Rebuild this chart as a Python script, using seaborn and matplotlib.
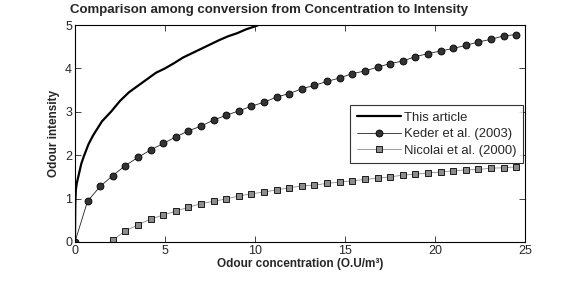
import numpy as np
import pandas as pd
import matplotlib
matplotlib.use("Agg")
import matplotlib.pyplot as plt
import seaborn as sns

# 数据
article_x = [0, 0.02, 0.05, 0.1, 0.2, 0.35, 0.5, 0.75, 1.0, 1.5, 2.0, 2.5, 3.0,
             3.5, 4.0, 4.5, 5.0, 5.5, 6.0, 6.5, 7.0, 7.5, 8.0, 8.5, 9.0, 9.5,
             10.0, 10.2]
article_y = [0, 0.9, 1.2, 1.35, 1.53, 1.8, 1.98, 2.25, 2.45, 2.78, 3.0, 3.25,
             3.45, 3.6, 3.75, 3.9, 4.0, 4.12, 4.25, 4.35, 4.45, 4.55, 4.65,
             4.74, 4.81, 4.9, 4.97, 5.0]

keder_x = [0, 0.7, 1.4, 2.1, 2.8, 3.5, 4.2, 4.9, 5.6, 6.3, 7.0, 7.7, 8.4, 9.1,
           9.8, 10.5, 11.2, 11.9, 12.6, 13.3, 14.0, 14.7, 15.4, 16.1, 16.8,
           17.5, 18.2, 18.9, 19.6, 20.3, 21.0, 21.7, 22.4, 23.1, 23.8, 24.5]
keder_y = [0, 0.94, 1.28, 1.53, 1.76, 1.95, 2.12, 2.27, 2.42, 2.56, 2.67, 2.81,
           2.92, 3.02, 3.13, 3.22, 3.34, 3.42, 3.53, 3.61, 3.70, 3.78, 3.88,
           3.94, 4.03, 4.11, 4.17, 4.27, 4.34, 4.40, 4.46, 4.53, 4.61, 4.67,
           4.75, 4.78]

nicolai_x = keder_x[3:]
nicolai_y = [0.04, 0.26, 0.39, 0.53, 0.62, 0.71, 0.80, 0.88, 0.94, 0.99, 1.06,
             1.11, 1.15, 1.20, 1.25, 1.29, 1.31, 1.35, 1.38, 1.41, 1.44, 1.47,
             1.50, 1.54, 1.56, 1.59, 1.61, 1.64, 1.66, 1.67, 1.70, 1.71, 1.73]

sns.set_style("ticks")
plt.rcParams['font.family'] = ['Liberation Sans', 'DejaVu Sans']

fig = plt.figure(figsize=(5.81, 2.81), dpi=100)
ax = fig.add_axes([0.129, 0.139, 0.775, 0.772])

sns.lineplot(x=article_x, y=article_y, ax=ax, color='black', linewidth=1.6,
             label='This article', sort=False)
sns.lineplot(x=keder_x, y=keder_y, ax=ax, color='#222222', linewidth=0.6,
             marker='o', markersize=5, markerfacecolor='#333333',
             markeredgecolor='black', markeredgewidth=0.6,
             label='Keder et al. (2003)', sort=False)
sns.lineplot(x=nicolai_x, y=nicolai_y, ax=ax, color='#8c8c8c', linewidth=0.6,
             marker='s', markersize=4.2, markerfacecolor='#8c8c8c',
             markeredgecolor='black', markeredgewidth=0.6,
             label='Nicolai et al. (2000)', sort=False)

ax.set_xlim(0, 25)
ax.set_ylim(0, 5)
ax.set_xticks([0, 5, 10, 15, 20, 25])
ax.set_yticks([0, 1, 2, 3, 4, 5])
ax.tick_params(direction='in', top=True, right=True, labelsize=9, length=4,
               width=0.6, pad=2)
for s in ax.spines.values():
    s.set_linewidth(0.8)
    s.set_color('black')

# 标题 (slightly left of the axes centre, as in the original)
fig.text(0.463, 0.965, 'Comparison among conversion from Concentration to Intensity',
         fontsize=9.5, fontweight='bold', ha='center', va='center')
ax.set_xlabel('Odour concentration (O.U/m³)', fontsize=8.5, fontweight='bold',
              labelpad=1)
ax.set_ylabel('Odour intensity', fontsize=8.5, fontweight='bold', labelpad=4)

leg = ax.legend(loc='upper left', bbox_to_anchor=(0.611, 0.632), fontsize=9.4,
                frameon=True, fancybox=False, borderpad=0.5, labelspacing=0.35,
                handlelength=3.4, handletextpad=0.2, borderaxespad=0)
leg.get_frame().set_edgecolor('black')
leg.get_frame().set_linewidth(0.8)

fig.savefig('out.png', dpi=100, facecolor='white')
